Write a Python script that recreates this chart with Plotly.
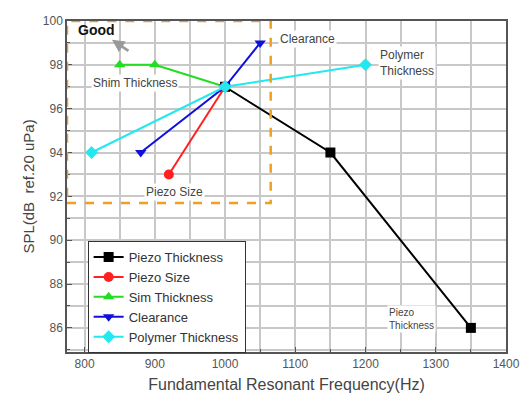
import plotly.graph_objects as go

series_names = ["Piezo Thickness", "Piezo Size", "Sim Thickness", "Clearance", "Polymer Thickness"]
piezo_thk_x = [1000, 1150, 1350]
piezo_thk_y = [97, 94, 86]
piezo_size_x = [920, 1000]
piezo_size_y = [93, 97]
shim_x = [850, 900, 1000]
shim_y = [98, 98, 97]
clear_x = [880, 1000, 1050]
clear_y = [94, 97, 99]
poly_x = [810, 1000, 1200]
poly_y = [94, 97, 98]

x_ticks = [800, 900, 1000, 1100, 1200, 1300, 1400]
y_ticks = [86, 88, 90, 92, 94, 96, 98, 100]

colors = ["#000000", "#ff2020", "#22dd22", "#1010dd", "#22e8f0"]
symbols = ["square", "circle", "triangle-up", "triangle-down", "diamond"]
xs = [piezo_thk_x, piezo_size_x, shim_x, clear_x, poly_x]
ys = [piezo_thk_y, piezo_size_y, shim_y, clear_y, poly_y]

fig = go.Figure()
for name, x, y, c, s in zip(series_names, xs, ys, colors, symbols):
    fig.add_trace(go.Scatter(x=x, y=y, name=name, mode="lines+markers",
                             line=dict(color=c, width=2),
                             marker=dict(symbol=s, color=c, size=10)))

# "Good" region box
fig.add_shape(type="rect", x0=775, x1=1065, y0=91.7, y1=100,
              line=dict(color="#f0a020", width=2.5, dash="dash"), layer="above")

lab_font = dict(family="Liberation Sans, Arial", size=12, color="#444444")
fig.add_annotation(x=1118, y=99.18, text="Clearance", showarrow=False, font=lab_font, bgcolor="white")
fig.add_annotation(x=1218, y=98.1, text="Polymer<br>Thickness", showarrow=False, font=lab_font,
                   bgcolor="white", xanchor="left", align="left")
fig.add_annotation(x=872, y=97.18, text="Shim Thickness", showarrow=False, font=lab_font, bgcolor="white")
fig.add_annotation(x=928, y=92.18, text="Piezo Size", showarrow=False, font=lab_font, bgcolor="white")
fig.add_annotation(x=1231, y=86.4, text="Piezo<br>Thickness", showarrow=False, xanchor="left",
                   font=dict(family="Liberation Sans, Arial", size=10, color="#444444"),
                   bgcolor="white", align="left")
fig.add_annotation(x=788, y=99.6, text="<b>Good</b>", showarrow=False, xanchor="left",
                   font=dict(family="Liberation Sans, Arial", size=14, color="#111111"))
fig.add_annotation(x=839, y=99.14, ax=18, ay=12, text="", showarrow=True, arrowhead=2,
                   arrowsize=1.0, arrowwidth=2.5, arrowcolor="#999999")

axis_font = dict(family="Liberation Sans, Arial", size=12, color="#555555")
fig.update_xaxes(range=[775, 1400], tickvals=x_ticks, automargin=False,
                 showgrid=True, gridcolor="#c8c8c8", gridwidth=1.5,
                 minor=dict(dtick=50, showgrid=True, gridcolor="#c8c8c8", gridwidth=1.5,
                            ticks="inside", ticklen=3, tickcolor="#555555"),
                 ticks="inside", ticklen=5, tickcolor="#555555",
                 showline=True, linecolor="#555555", linewidth=1.5, mirror=True,
                 zeroline=False,
                 title=dict(text="Fundamental Resonant Frequency(Hz)", standoff=12,
                            font=dict(family="Liberation Sans, Arial", size=16, color="#444444")),
                 tickfont=axis_font)
fig.update_yaxes(range=[84.9, 100], tickvals=y_ticks, automargin=False,
                 showgrid=True, gridcolor="#c8c8c8", gridwidth=1.5,
                 minor=dict(dtick=1, showgrid=True, gridcolor="#c8c8c8", gridwidth=1.5,
                            ticks="inside", ticklen=3, tickcolor="#555555"),
                 ticks="inside", ticklen=5, tickcolor="#555555",
                 showline=True, linecolor="#555555", linewidth=1.5, mirror=True,
                 zeroline=False,
                 title=dict(text="SPL(dB  ref.20 uPa)", standoff=5,
                            font=dict(family="Liberation Sans, Arial", size=15, color="#444444")),
                 tickfont=axis_font)

fig.update_layout(width=512, height=385, margin=dict(l=59, r=14, t=13, b=41, autoexpand=False),
                  paper_bgcolor="white", plot_bgcolor="white",
                  legend=dict(x=0.047, y=0.335, xanchor="left", yanchor="top",
                              bgcolor="white", bordercolor="#333333", borderwidth=1,
                              font=dict(family="Liberation Sans, Arial", size=13, color="#333333"),
                              tracegroupgap=0, itemwidth=30),
                  showlegend=True)

fig.write_html("out.html")
